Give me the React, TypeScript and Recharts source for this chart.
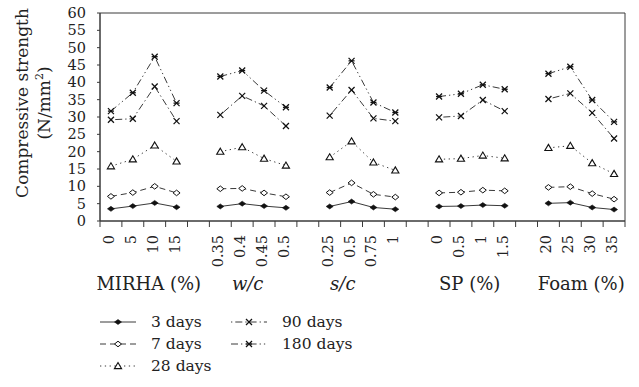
import React from 'react';
import { LineChart, Line, XAxis, YAxis, Legend, ReferenceArea } from 'recharts';

// ---------- data ----------
const categories = [
  '0', '5', '10', '15', '',
  '0.35', '0.4', '0.45', '0.5', '',
  '0.25', '0.5', '0.75', '1', '',
  '0', '0.5', '1', '1.5', '',
  '20', '25', '30', '35',
];

const days3 = [3.5, 4.3, 5.2, 4.0, null, 4.2, 5.0, 4.3, 3.8, null, 4.2, 5.6, 3.9, 3.4, null, 4.2, 4.3, 4.6, 4.4, null, 5.1, 5.3, 3.9, 3.3];
const days7 = [7.1, 8.2, 10.0, 8.1, null, 9.3, 9.4, 8.1, 7.0, null, 8.2, 11.0, 7.7, 6.9, null, 8.1, 8.3, 8.9, 8.7, null, 9.7, 9.9, 7.9, 6.3];
const days28 = [15.8, 17.8, 21.8, 17.2, null, 20.0, 21.3, 18.0, 16.0, null, 18.4, 23.0, 16.9, 14.6, null, 17.8, 18.0, 18.9, 18.1, null, 21.1, 21.7, 16.7, 13.6];
const days90 = [29.2, 29.5, 38.8, 28.8, null, 30.6, 36.1, 33.2, 27.4, null, 30.4, 37.8, 29.6, 28.8, null, 29.9, 30.3, 34.9, 31.7, null, 35.2, 36.8, 31.2, 23.8];
const days180 = [31.7, 37.0, 47.4, 34.0, null, 41.7, 43.4, 37.6, 32.8, null, 38.5, 46.2, 34.2, 31.3, null, 35.9, 36.7, 39.3, 38.0, null, 42.5, 44.5, 34.9, 28.6];

const groupNames = ['MIRHA (%)', 'w/c', 's/c', 'SP (%)', 'Foam (%)'];
const groupItalic = [false, true, true, false, false];
// label centre of each group, measured in category bands from the left edge
const groupCenters = [2.23, 6.75, 11.1, 16.9, 22];

const yTicks = [0, 5, 10, 15, 20, 25, 30, 35, 40, 45, 50, 55, 60];

const rows = categories.map((c, i) => ({
  key: `k${i}`,
  d3: days3[i],
  d7: days7[i],
  d28: days28[i],
  d90: days90[i],
  d180: days180[i],
}));

// ---------- styles ----------
const FONT = '"DejaVu Serif", serif';
const INK = '#222';
const LINE = '#3a3a3a';
const TICK_SIZE = 6;
const TICK_MARGIN = 8;
const GROUP_DROP = 42;

const series = [
  { key: 'd3', name: '3 days', dash: undefined, marker: 'fdiamond' },
  { key: 'd7', name: '7 days', dash: '6 4', marker: 'odiamond' },
  { key: 'd28', name: '28 days', dash: '1.3 3.5', marker: 'triangle' },
  { key: 'd90', name: '90 days', dash: '1.3 3 7 3', marker: 'x' },
  { key: 'd180', name: '180 days', dash: '7 3 1.3 3 1.3 3', marker: 'xbar' },
];

function Marker({ kind, x, y }: { kind: string; x: number; y: number }) {
  switch (kind) {
    case 'fdiamond':
      return <polygon points={`${x - 3.5},${y} ${x},${y - 2.5} ${x + 3.5},${y} ${x},${y + 2.5}`} fill="#111" stroke="#111" strokeWidth={0.6} />;
    case 'odiamond':
      return <polygon points={`${x - 3.5},${y} ${x},${y - 2.8} ${x + 3.5},${y} ${x},${y + 2.8}`} fill="#fff" stroke="#111" strokeWidth={1} />;
    case 'triangle':
      return <polygon points={`${x},${y - 3.5} ${x + 3.6},${y + 2.6} ${x - 3.6},${y + 2.6}`} fill="#fff" stroke="#111" strokeWidth={1.1} />;
    case 'x':
      return (
        <g stroke="#111" strokeWidth={1.2}>
          <line x1={x - 3} y1={y - 3} x2={x + 3} y2={y + 3} />
          <line x1={x - 3} y1={y + 3} x2={x + 3} y2={y - 3} />
        </g>
      );
    case 'xbar':
      return (
        <g stroke="#111" strokeWidth={1.3}>
          <line x1={x - 3} y1={y - 3} x2={x + 3} y2={y + 3} />
          <line x1={x - 3} y1={y + 3} x2={x + 3} y2={y - 3} />
          <line x1={x - 3} y1={y} x2={x + 3} y2={y} />
        </g>
      );
    default:
      return null;
  }
}

const makeDot = (kind: string) => (props: any) => {
  const { cx, cy, index, value } = props;
  if (cx == null || cy == null || value == null || Number.isNaN(cy)) {
    return <g key={`${kind}-${index}`} />;
  }
  return (
    <g key={`${kind}-${index}`}>
      <Marker kind={kind} x={cx} y={cy} />
    </g>
  );
};

function CatTick(props: any) {
  const { x, y, payload, width } = props;
  const idx = Number(String(payload.value).slice(1));
  const label = categories[idx];
  const half = payload.offset != null && payload.offset > 0 ? payload.offset : width / categories.length / 2;
  const top = y - TICK_MARGIN - TICK_SIZE;
  const tx = x + 3;
  const groups = groupCenters
    .map((c, gi) => ({ c, gi }))
    .filter(({ c }) => Math.floor(c) === idx);
  return (
    <g>
      <line x1={x - half} x2={x - half} y1={top} y2={top + TICK_SIZE} stroke={LINE} strokeWidth={1} />
      {idx === categories.length - 1 && (
        <line x1={x + half} x2={x + half} y1={top} y2={top + TICK_SIZE} stroke={LINE} strokeWidth={1} />
      )}
      {label !== '' && (
        <text x={tx} y={y} transform={`rotate(-90, ${tx}, ${y})`} textAnchor="end" fontSize={14.5} fill={INK} fontFamily={FONT}>
          {label}
        </text>
      )}
      {groups.map(({ c, gi }) => (
        <text
          key={gi}
          x={x - half + (c - idx) * 2 * half}
          y={y + GROUP_DROP}
          dy="0.71em"
          textAnchor="middle"
          fontSize={18}
          fontStyle={groupItalic[gi] ? 'italic' : 'normal'}
          fill={INK}
          fontFamily={FONT}
        >
          {groupNames[gi]}
        </text>
      ))}
    </g>
  );
}

function YLabel(props: any) {
  const vb = props.viewBox || { x: 0, y: 13, width: 100, height: 208 };
  const cy = vb.y + vb.height / 2 - 14;
  const x1 = vb.x + 28;
  const x2 = vb.x + 50;
  return (
    <g fontFamily={FONT} fill={INK} fontSize={17}>
      <text x={x1} y={cy} transform={`rotate(-90, ${x1}, ${cy})`} textAnchor="middle">
        Compressive strength
      </text>
      <text x={x2} y={cy} transform={`rotate(-90, ${x2}, ${cy})`} textAnchor="middle">
        (N/mm<tspan dy={-7} fontSize={11}>2</tspan>
        <tspan dy={7}>)</tspan>
      </text>
    </g>
  );
}

function LegendContent() {
  return (
    <div
      style={{
        display: 'grid',
        gridAutoFlow: 'column',
        gridTemplateRows: 'repeat(3, 22px)',
        gridTemplateColumns: '131px auto',
        fontFamily: FONT,
        fontSize: 15.5,
        color: INK,
      }}
    >
      {series.map((s) => (
        <div key={s.key} style={{ display: 'flex', alignItems: 'center', height: 22 }}>
          <svg width={38} height={12} style={{ display: 'block' }}>
            <line x1={1} y1={6} x2={37} y2={6} stroke={LINE} strokeWidth={1} strokeDasharray={s.dash} />
            <Marker kind={s.marker} x={19} y={6} />
          </svg>
          <span style={{ marginLeft: 14, lineHeight: '22px' }}>{s.name}</span>
        </div>
      ))}
    </div>
  );
}

export default function App() {
  return (
    <div style={{ position: 'absolute', left: 0, top: 0, width: 639, height: 387, background: '#fff', fontFamily: FONT }}>
      <LineChart width={639} height={387} data={rows} margin={{ top: 13, right: 14, bottom: 0, left: 0 }}>
        <XAxis
          dataKey="key"
          type="category"
          scale="band"
          interval={0}
          height={78}
          tickSize={TICK_SIZE}
          tickMargin={TICK_MARGIN}
          tickLine={false}
          axisLine={{ stroke: LINE, strokeWidth: 1 }}
          tick={<CatTick />}
        />
        <YAxis
          type="number"
          domain={[0, 60]}
          ticks={yTicks}
          interval={0}
          width={100}
          tickSize={3}
          tickMargin={11}
          axisLine={{ stroke: LINE, strokeWidth: 1 }}
          tickLine={{ stroke: LINE, strokeWidth: 1 }}
          tick={{ fontSize: 14.5, fill: INK, fontFamily: FONT }}
          label={<YLabel />}
        />
        <ReferenceArea y1={0} y2={60} fill="none" stroke={LINE} strokeWidth={1} />
        {series.map((s) => (
          <Line
            key={s.key}
            dataKey={s.key}
            name={s.name}
            stroke={LINE}
            strokeWidth={1}
            strokeDasharray={s.dash}
            dot={makeDot(s.marker)}
            activeDot={false}
            connectNulls={false}
            isAnimationActive={false}
          />
        ))}
        <Legend verticalAlign="bottom" height={88} wrapperStyle={{ left: 99, top: 311, width: 320 }} content={<LegendContent />} />
      </LineChart>
    </div>
  );
}
